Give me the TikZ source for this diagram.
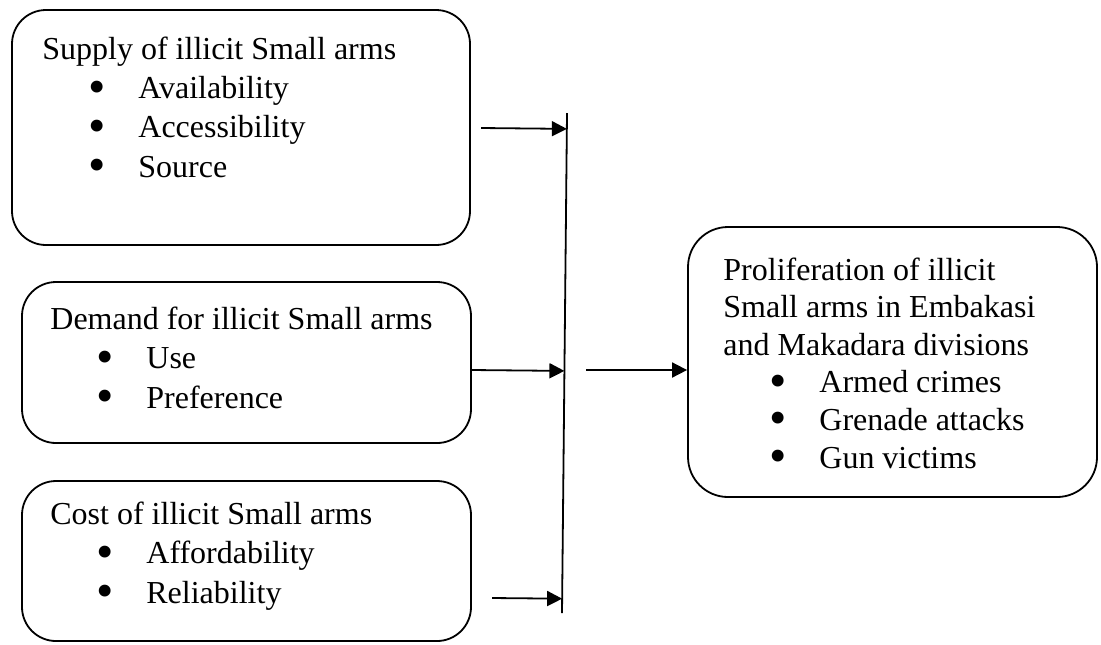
\documentclass[tikz,border=0pt]{standalone}
\usepackage{fontspec}
\setmainfont{Liberation Serif}
\usetikzlibrary{calc}
\usetikzlibrary{arrows.meta}

\begin{document}
\begin{tikzpicture}[x=0.5pt,y=-0.5pt,
    box/.style={draw,line width=0.9pt,rounded corners=17pt,inner sep=0pt},
    txt/.style={anchor=base west,align=left,inner sep=0pt,font=\fontsize{16}{19.6}\selectfont},
    arr/.style={line width=0.9pt,-{Triangle[length=7.5pt,width=7.5pt]}}]
    \newcommand{\itm}[1]{\hspace*{27.5pt}\makebox[0pt]{\smash{\raisebox{-0.14em}{\scalebox{1.55}{\textbullet}}}}\hspace*{20.5pt}#1}
    \useasboundingbox (0,0) rectangle (1101,644);

    % the four boxes
    \node[box,minimum width=229pt,minimum height=117.5pt] (supply) at (241,127.5) {};
    \node[box,minimum width=224.5pt,minimum height=80.5pt] (demand) at (246.5,362.5) {};
    \node[box,minimum width=224.5pt,minimum height=80pt] (cost) at (246.5,561) {};
    \node[box,minimum width=204.5pt,minimum height=135pt,rounded corners=20pt] (prolif) at (892.5,362) {};

    % texts, placed by the baseline of their last line
    \node[txt] (supplytxt) at (42,177) {Supply of illicit Small arms\\
      \itm{Availability}\\ \itm{Accessibility}\\ \itm{Source}};
    \node[txt] (demandtxt) at (50,408) {Demand for illicit Small arms\\
      \itm{Use}\\ \itm{Preference}};
    \node[txt] (costtxt) at (50,603) {Cost of illicit Small arms\\
      \itm{Affordability}\\ \itm{Reliability}};
    \node[txt,font=\fontsize{16}{18.8}\selectfont] (prolitxt) at (723,468) {Proliferation of illicit\\
      Small arms in Embakasi\\ and Makadara divisions\\
      \itm{Armed crimes}\\ \itm{Grenade attacks}\\ \itm{Gun victims}};

    % joining bar
    \coordinate (bartop) at (567,113);
    \coordinate (barbot) at (562,613);
    \draw[line width=0.9pt] (bartop) -- (barbot);

    \coordinate (s1) at (481,128);
    \coordinate (s2) at ($(demand.east)+(0,7.5)$);
    \coordinate (s4) at (492,598);
    \coordinate (s3) at (586,370);
    \draw[arr] (s1) -- ($(bartop)!(s1)!(barbot)$);
    \draw[arr] (s2) -- ($(bartop)!(s2)!(barbot)$);
    \draw[arr] (s4) -- ($(bartop)!(s4)!(barbot)$);
    \draw[arr] (s3) -- (s3 -| prolif.west);
  \end{tikzpicture}
\end{document}
